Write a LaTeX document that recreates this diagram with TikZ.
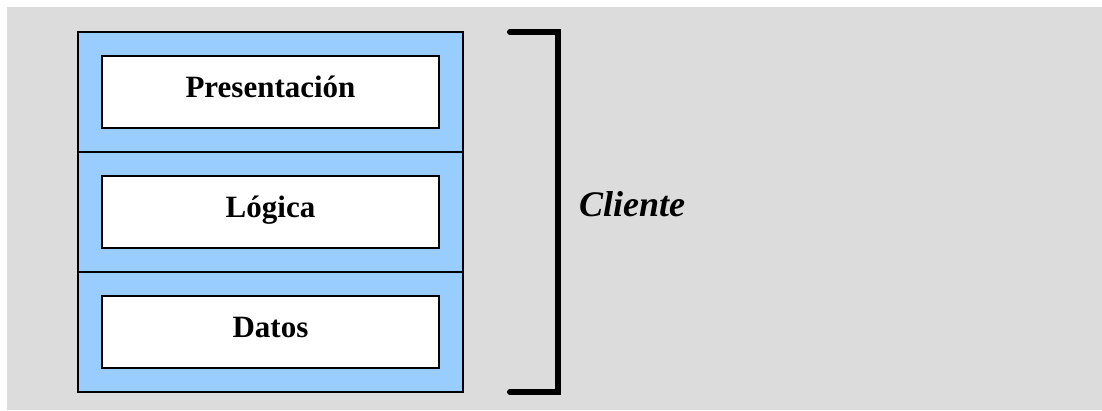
\documentclass[tikz,border=0pt]{standalone}
\usepackage{fontspec}
\setmainfont{Liberation Serif}
\definecolor{canvas}{HTML}{DCDCDC}
\definecolor{tier}{HTML}{99CCFF}
\begin{document}
\begin{tikzpicture}[x=1pt,y=-1pt,
  tierbox/.style={draw=black,line width=1.5pt,fill=tier,minimum width=385pt,minimum height=120pt,inner sep=0pt,outer sep=0pt},
  layerbox/.style={draw=black,line width=1.5pt,fill=white,minimum width=337pt,minimum height=72pt,inner sep=0pt,
    text height=22pt,text depth=12pt,font=\bfseries\fontsize{31}{36}\selectfont},
  bracket/.style={line width=6pt,line cap=round,line join=miter}]
\useasboundingbox (0,0) rectangle (1102,410);
\fill[canvas] (7,7) rectangle (1102,410);
% three stacked tiers of the client
\node[tierbox] (t1) at (270.5,92) {};
\node[tierbox] (t2) at (270.5,212) {};
\node[tierbox] (t3) at (270.5,332) {};
\node[layerbox] (pres) at (t1.center) {Presentación};
\node[layerbox] (log) at (t2.center) {Lógica};
\node[layerbox] (dat) at (t3.center) {Datos};
% bracket grouping the tiers
\coordinate (bt) at (558,32);
\coordinate (bb) at (558,392);
\draw[bracket] (510,32) -- (bt) -- (bb) -- (510,392);
\node[anchor=base west,inner sep=0pt,font=\bfseries\itshape\fontsize{36}{40}\selectfont] (cli) at (579,216) {Cliente};
\end{tikzpicture}
\end{document}
